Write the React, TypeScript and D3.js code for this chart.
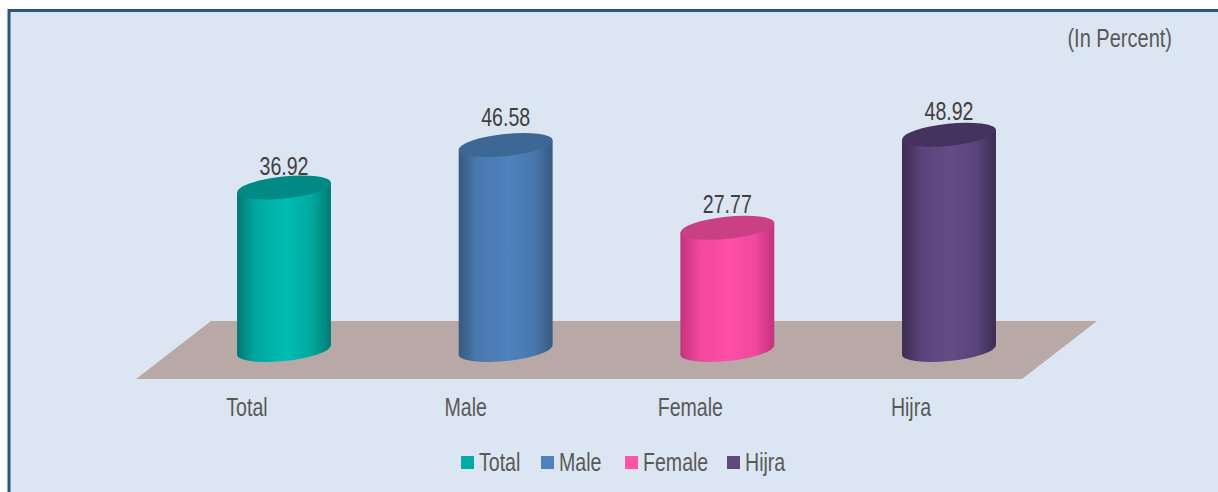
import React from "react";
import * as d3 from "d3";

const categories = ["Total", "Male", "Female", "Hijra"];
const values = [36.92, 46.58, 27.77, 48.92];
const mainColors = ["#00bdb2", "#4f81bd", "#ff4fa7", "#654c85"];
const midColors = ["#00a89e", "#4a78ae", "#f0479c", "#59437a"];
const edgeColors = ["#007a72", "#36597f", "#c2337c", "#3b2c50"];
const topColors = ["#058a85", "#3c6896", "#c93f85", "#45325e"];
const swatchColors = ["#00aca5", "#4f81bd", "#ff54a9", "#5f497a"];
const legendSwatchX = [461, 541, 625, 727];
const labelLift = [13, 19, 15, 15];
const axisLabelShift = [-37, -40, -37, -38];
const unitLabel = "(In Percent)";

const W = 1218;
const H = 492;
const RX = 47.2;
const RY = 11;
const ROT = -6;
const theta = (ROT * Math.PI) / 180;
const halfW = Math.sqrt(RX * RX * Math.cos(theta) ** 2 + RY * RY * Math.sin(theta) ** 2);
const tanDy = ((RX * RX - RY * RY) * Math.sin(-theta) * Math.cos(theta)) / halfW;

const x = d3.scalePoint<string>().domain(categories).range([284, 949]);
const y = d3.scaleLinear().domain([0, 50]).range([350, 130]);

const FONT = "'Liberation Sans', Arial, sans-serif";

function Squeezed({ x: tx, y: ty, anchor, fill, size = 22, sx = 0.89, sy = 1.13, children }: any) {
  return (
    <text
      transform={`translate(${tx},${ty}) scale(${sx},${sy})`}
      textAnchor={anchor}
      fill={fill}
      fontFamily={FONT}
      fontSize={size}
    >
      {children}
    </text>
  );
}

export default function App() {
  const plate = d3.line()([
    [136, 379],
    [211, 321],
    [1097, 321],
    [1022, 379],
  ]) + "Z";

  return (
    <svg
      width={W}
      height={H}
      viewBox={`0 0 ${W} ${H}`}
      style={{ position: "absolute", left: 0, top: 0, display: "block" }}
    >
      <defs>
        {categories.map((c, i) => (
          <linearGradient key={c} id={`grad-${i}`} x1="0" x2="1" y1="0" y2="0">
            <stop offset="0" stopColor={edgeColors[i]} />
            <stop offset="0.2" stopColor={midColors[i]} />
            <stop offset="0.52" stopColor={mainColors[i]} />
            <stop offset="0.8" stopColor={midColors[i]} />
            <stop offset="1" stopColor={edgeColors[i]} />
          </linearGradient>
        ))}
        <filter id="soft" x="-5%" y="-5%" width="110%" height="110%">
          <feGaussianBlur stdDeviation="0.4" />
        </filter>
      </defs>
      <rect x={0} y={0} width={W} height={H} fill="#ffffff" />
      <rect x={9} y={10.5} width={W} height={H} fill="#dce6f2" stroke="#2a5488" strokeWidth={3} />
      <path d={plate} fill="#b8a9a7" />

      {categories.map((c, i) => {
        const cx = x(c) as number;
        const base = y(0);
        const top = y(values[i]);
        const body =
          `M${cx - halfW},${top + tanDy}` +
          `L${cx - halfW},${base + tanDy}` +
          `A${RX},${RY} ${ROT} 0 0 ${cx + halfW},${base - tanDy}` +
          `L${cx + halfW},${top - tanDy}Z`;
        return (
          <g key={c}>
            <g filter="url(#soft)">
              <path d={body} fill={`url(#grad-${i})`} />
              <ellipse
                cx={cx}
                cy={top}
                rx={RX}
                ry={RY}
                fill={topColors[i]}
                transform={`rotate(${ROT} ${cx} ${top})`}
              />
            </g>
            <Squeezed x={cx} y={top - labelLift[i]} anchor="middle" fill="#404040">
              {values[i].toFixed(2)}
            </Squeezed>
            <Squeezed x={cx + axisLabelShift[i]} y={416} anchor="middle" fill="#595959">
              {c}
            </Squeezed>
          </g>
        );
      })}

      <Squeezed x={1172} y={46.5} anchor="end" fill="#595959" sx={0.91}>
        {unitLabel}
      </Squeezed>

      {categories.map((c, i) => (
        <g key={`legend-${c}`}>
          <rect x={legendSwatchX[i]} y={456} width={13} height={13} fill={swatchColors[i]} />
          <Squeezed x={legendSwatchX[i] + 18} y={471} anchor="start" fill="#595959">
            {c}
          </Squeezed>
        </g>
      ))}
    </svg>
  );
}
